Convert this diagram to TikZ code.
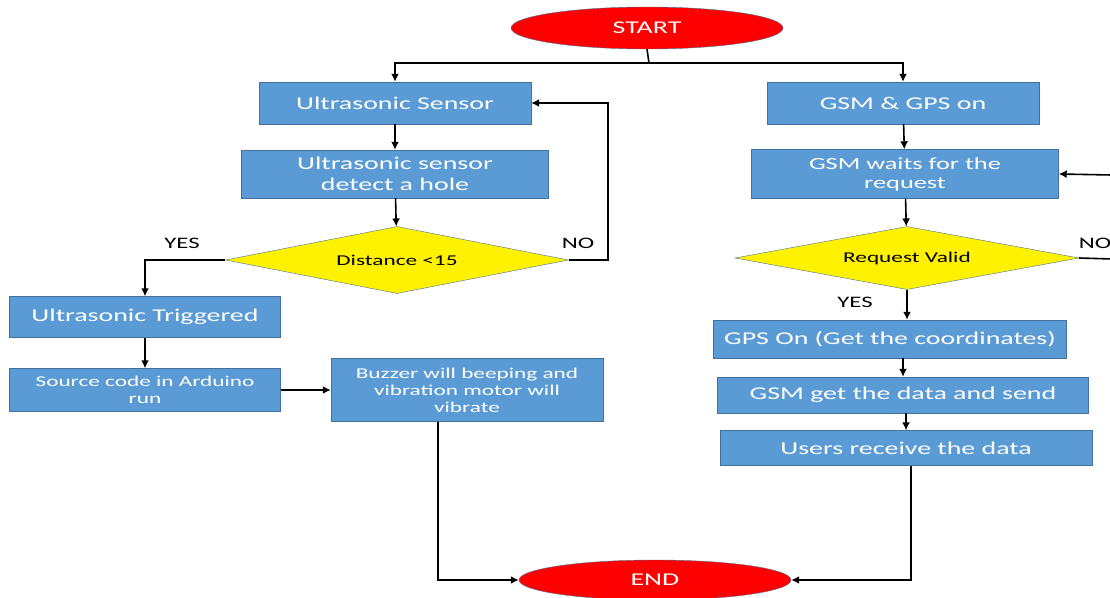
\documentclass[tikz,border=0pt]{standalone}
\usepackage{fontspec}
\setmainfont{Carlito}[FakeStretch=1.55]
\usetikzlibrary{shapes.geometric,arrows.meta}

\definecolor{boxblue}{HTML}{5B9BD5}
\definecolor{edgeblue}{HTML}{41719C}

\tikzset{
  box/.style={draw=edgeblue,fill=boxblue,text=white,inner sep=0pt,align=center},
  term/.style={ellipse,draw=edgeblue,fill=red,text=white,inner sep=0pt,
    minimum width=272pt,font=\fontsize{18}{21}\selectfont},
  test/.style={diamond,draw=edgeblue,fill=yellow,inner sep=0pt,aspect=5,
    font=\fontsize{15}{17}\selectfont},
  wire/.style={line width=1.6pt},
  arr/.style={wire,-{Latex[length=8pt,width=8pt]}},
  lbl/.style={font=\fontsize{16}{18}\selectfont}
}

\begin{document}
\begin{tikzpicture}[x=1pt,y=-1pt]

\clip (0,0) rectangle (1110,597);

\node[term, minimum height=42pt] (start) at (647,28) {START};

\node[box, minimum width=272pt, minimum height=42pt,
  font=\fontsize{18}{21}\selectfont] (sensor) at (395,103) {Ultrasonic Sensor};
\node[box, minimum width=307pt, minimum height=48pt,
  font=\fontsize{18}{21}\selectfont] (detect) at (395,174) {Ultrasonic sensor\\detect a hole};
\node[test, minimum width=343pt, minimum height=67pt] (dist) at (397,260) {Distance <15};
\node[box, minimum width=271pt, minimum height=41pt,
  font=\fontsize{18}{21}\selectfont] (trig) at (145,317) {Ultrasonic Triggered};
\node[box, minimum width=271pt, minimum height=43pt,
  font=\fontsize{15}{17}\selectfont] (source) at (145,390) {Source code in Arduino\\run};
\node[box, minimum width=272pt, minimum height=63pt,
  font=\fontsize{15}{17}\selectfont] (buzzer) at (467,390) {Buzzer will beeping and\\vibration motor will\\vibrate};

\node[box, minimum width=272pt, minimum height=42pt,
  font=\fontsize{18}{21}\selectfont] (gsmgps) at (903,103) {GSM \& GPS on};
\node[box, minimum width=307pt, minimum height=49pt,
  font=\fontsize{17}{19}\selectfont] (wait) at (905,174) {GSM waits for the\\request};
\node[test, minimum width=344pt, minimum height=63pt] (valid) at (907,258) {Request Valid};
\node[box, minimum width=353pt, minimum height=38pt,
  font=\fontsize{18}{21}\selectfont] (gpson) at (890,339) {GPS On (Get the coordinates)};
\node[box, minimum width=371pt, minimum height=36pt,
  font=\fontsize{18}{21}\selectfont] (getsend) at (903,395) {GSM get the data and send};
\node[box, minimum width=372pt, minimum height=35pt,
  font=\fontsize{18}{21}\selectfont] (users) at (906,448) {Users receive the data};

\node[term, minimum height=40pt] (finish) at (655,580) {END};

\node[lbl] (yesl) at (182,243) {YES};
\node[lbl] (nol) at (578,243) {NO};
\node[lbl] (yesr) at (855,302) {YES};
\node[lbl] (nor) at (1095,243) {NO};

\coordinate (split) at (649,63);
\coordinate (noturn) at (608,260);
\coordinate (buzzdown) at (438,580);
\coordinate (usersdown) at (911,578);
\coordinate (edgein) at (1112,175);
\coordinate (edgeout) at (1112,259);

\draw[wire] (start.south) -- (split);
\draw[arr] (split) -| (sensor.north);
\draw[arr] (split) -| (gsmgps.north);

\draw[arr] (sensor) -- (detect);
\draw[arr] (detect) -- (dist);
\draw[arr] (dist.west) -| (trig.north);
\draw[arr] (dist.east) -- (noturn) |- (sensor.east);
\draw[arr] (trig) -- (source);
\draw[arr] (source) -- (buzzer);
\draw[arr] (buzzer.south -| buzzdown) |- (finish.west);

\draw[arr] (gsmgps) -- (wait);
\draw[arr] (edgein) -- (wait.east);
\draw[arr] (wait) -- (valid);
\draw[wire] (valid.east) -- (edgeout);
\draw[arr] (valid.south) -- (valid.south |- gpson.north);
\draw[arr] (gpson.south -| getsend) -- (getsend.north);
\draw[arr] (getsend.south -| users) -- (users.north);
\draw[arr] (users.south -| usersdown) |- (finish.east);

\end{tikzpicture}
\end{document}
